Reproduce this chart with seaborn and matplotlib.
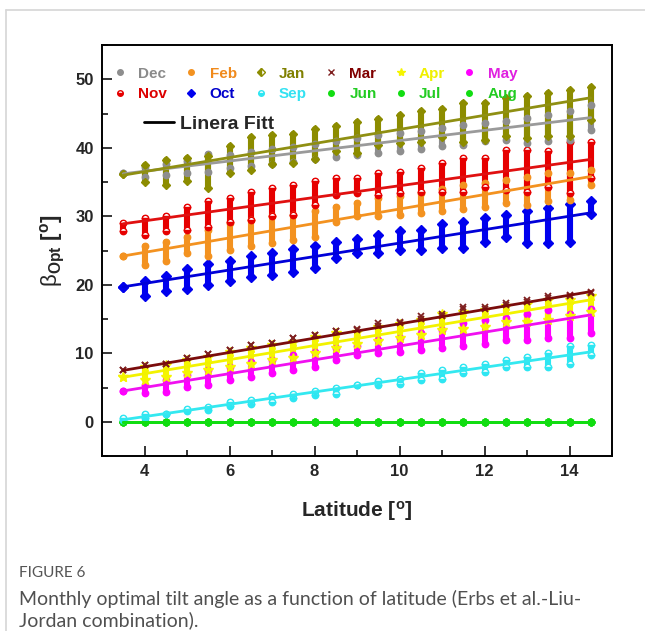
import matplotlib
matplotlib.use("Agg")
import matplotlib.pyplot as plt
from matplotlib.lines import Line2D
from matplotlib.ticker import MultipleLocator
import seaborn as sns

# ---------------- data ----------------
lat = [3.5, 4.0, 4.5, 5.0, 5.5, 6.0, 6.5, 7.0, 7.5, 8.0, 8.5, 9.0,
       9.5, 10.0, 10.5, 11.0, 11.5, 12.0, 12.5, 13.0, 13.5, 14.0, 14.5]

jan_lo = [36.1, 35.0, 34.6, 35.1, 34.1, 36.3, 36.8, 37.6, 37.8, 38.3, 39.5, 39.2,
          40.4, 40.7, 40.9, 41.5, 40.9, 41.2, 41.7, 41.4, 41.7, 41.7, 44.0]
jan_hi = [36.1, 37.5, 38.2, 38.5, 38.8, 40.2, 41.5, 41.8, 42.0, 42.7, 43.2, 43.7,
          44.2, 44.8, 45.3, 45.6, 46.5, 46.5, 47.3, 47.5, 48.0, 48.5, 48.8]
dec_lo = [36.3, 35.8, 36.0, 36.3, 36.5, 37.0, 37.3, 37.7, 37.9, 38.3, 38.6, 39.0,
          39.3, 39.5, 39.8, 40.2, 40.4, 41.0, 41.2, 40.7, 41.0, 41.2, 42.6]
dec_hi = [36.3, 37.2, 37.7, 38.1, 39.1, 39.0, 39.4, 39.8, 40.1, 40.6, 41.0, 41.4,
          41.8, 42.1, 42.5, 42.9, 43.3, 43.6, 43.9, 44.3, 44.8, 45.4, 46.2]
nov_lo = [27.8, 27.3, 27.8, 28.0, 28.5, 29.2, 29.5, 30.0, 30.2, 31.7, 33.1, 33.4,
          33.1, 33.4, 33.6, 33.6, 33.6, 34.3, 33.8, 33.6, 34.3, 33.4, 35.6]
nov_hi = [29.0, 29.7, 30.0, 31.4, 32.2, 32.6, 33.6, 34.1, 34.6, 35.1, 35.6, 35.6,
          36.3, 36.5, 37.0, 37.8, 38.5, 38.5, 39.7, 39.7, 39.5, 40.9, 40.9]
feb_lo = [24.2, 22.9, 23.4, 24.6, 24.2, 25.1, 25.6, 26.1, 26.5, 27.0, 29.2, 30.0,
          30.0, 30.2, 30.5, 30.7, 31.0, 31.4, 31.9, 31.7, 32.2, 32.4, 34.6]
feb_hi = [24.2, 25.6, 26.3, 27.0, 28.0, 29.0, 29.5, 30.0, 30.2, 30.7, 31.4, 31.9,
          32.6, 32.9, 33.4, 34.0, 34.5, 34.8, 35.3, 35.8, 36.3, 36.3, 36.8]
oct_lo = [19.7, 18.3, 19.1, 19.4, 20.0, 20.5, 21.2, 21.4, 21.9, 22.4, 23.9, 24.7,
          24.6, 25.1, 25.1, 25.3, 25.3, 26.3, 27.0, 26.1, 26.1, 26.2, 30.4]
oct_hi = [19.7, 20.5, 21.3, 22.3, 23.0, 23.4, 24.2, 24.6, 25.2, 25.7, 26.3, 26.7,
          27.3, 27.8, 28.0, 28.8, 29.2, 29.7, 30.2, 30.7, 31.2, 31.8, 32.2]
mar_lo = [7.6, 8.3, 8.5, 9.3, 9.9, 10.5, 11.2, 11.5, 12.2, 12.7, 13.2, 13.4,
          14.0, 14.4, 15.0, 15.4, 16.4, 16.5, 17.0, 17.5, 18.0, 18.3, 18.8]
mar_hi = [7.6, 8.3, 8.5, 9.3, 9.9, 10.5, 11.2, 11.5, 12.2, 12.7, 13.2, 13.6,
          14.4, 14.6, 15.4, 15.8, 16.8, 16.8, 17.3, 17.8, 18.3, 18.5, 19.0]
apr_lo = [6.6, 6.1, 6.6, 7.1, 7.6, 8.0, 8.5, 9.0, 9.3, 10.0, 10.7, 11.4,
          11.8, 12.2, 12.6, 13.4, 13.6, 13.8, 14.5, 14.6, 14.9, 15.4, 16.0]
apr_hi = [6.6, 8.0, 8.3, 9.0, 9.5, 10.2, 10.7, 11.2, 11.7, 12.4, 12.9, 13.1,
          13.9, 14.3, 14.8, 15.8, 16.0, 16.3, 16.9, 17.2, 17.8, 17.8, 18.3]
may_lo = [4.5, 4.2, 4.4, 5.1, 5.4, 6.1, 6.6, 7.1, 7.6, 8.0, 9.0, 9.7,
          10.0, 10.2, 10.5, 10.7, 11.0, 11.4, 11.9, 11.9, 12.2, 12.2, 13.0]
may_hi = [4.5, 5.4, 6.1, 6.8, 7.6, 8.0, 8.7, 9.0, 9.8, 10.2, 10.7, 11.0,
          12.0, 12.2, 12.9, 13.4, 14.4, 14.9, 15.1, 15.8, 16.3, 15.8, 16.5]
sep_lo = [0.25, 0.6, 1.2, 1.5, 1.7, 2.3, 2.6, 2.9, 3.4, 3.9, 4.1, 5.4,
          5.4, 5.5, 6.1, 6.3, 7.1, 7.3, 8.0, 8.0, 8.0, 8.5, 9.7]
sep_hi = [0.5, 1.2, 1.2, 1.9, 2.2, 2.9, 3.2, 3.7, 4.1, 4.5, 4.9, 5.4,
          5.9, 6.3, 7.1, 7.6, 8.0, 8.5, 9.0, 9.5, 10.0, 11.0, 11.2]
summer = [0.0, 0.0, 0.0, 0.0, 0.0, 0.0, 0.0, 0.0, 0.0, 0.0, 0.0, 0.0,
          0.0, 0.0, 0.0, 0.0, 0.0, 0.0, 0.0, 0.0, 0.0, 0.0, 0.0]  # Jun, Jul, Aug

# linear fits: value at first and last latitude
fit_months = ["Jun", "Jul", "Aug", "Sep", "May", "Apr", "Mar", "Oct", "Feb", "Nov", "Dec", "Jan"]
fit_first = [0.0, 0.0, 0.0, 0.3, 4.5, 6.5, 7.5, 19.7, 24.2, 28.9, 36.2, 36.0]
fit_last = [0.0, 0.0, 0.0, 10.2, 15.6, 17.8, 19.0, 30.5, 35.8, 38.3, 44.4, 47.3]

legend_labels = ["Dec", "Nov", "Feb", "Oct", "Jan", "Sep", "Mar", "Jun", "Apr", "Jul", "May", "Aug"]

# ---------------- styles ----------------
style = {
    "Dec": dict(c="#8e8e8e", line="#9a9a9a", txt="#8a8a8a", m="o", fill="full"),
    "Nov": dict(c="#e60000", line="#e01010", txt="#dd0000", m="o", fill="bottom"),
    "Feb": dict(c="#f39220", line="#f39220", txt="#f08a1c", m="o", fill="full"),
    "Oct": dict(c="#0000ee", line="#0000d8", txt="#0000cc", m="D", fill="full"),
    "Jan": dict(c="#8c8c00", line="#8f8f12", txt="#808000", m="D", fill="left"),
    "Sep": dict(c="#2ee6f2", line="#33e8f0", txt="#33e2f2", m="o", fill="bottom"),
    "Mar": dict(c="#7f2020", line="#7a0c0c", txt="#800000", m="x", fill="full"),
    "Jun": dict(c="#11dd11", line="#11dd11", txt="#22cc22", m="o", fill="full"),
    "Apr": dict(c="#f5f500", line="#f2f200", txt="#f0f000", m="*", fill="full"),
    "Jul": dict(c="#11dd11", line="#11dd11", txt="#22cc22", m="o", fill="full"),
    "May": dict(c="#ff00ff", line="#f010f0", txt="#e020e0", m="o", fill="full"),
    "Aug": dict(c="#11dd11", line="#11dd11", txt="#22cc22", m="o", fill="full"),
}

series = [("Jun", summer, summer), ("Jul", summer, summer), ("Aug", summer, summer),
          ("Sep", sep_lo, sep_hi), ("May", may_lo, may_hi), ("Apr", apr_lo, apr_hi),
          ("Oct", oct_lo, oct_hi), ("Feb", feb_lo, feb_hi), ("Nov", nov_lo, nov_hi),
          ("Dec", dec_lo, dec_hi), ("Jan", jan_lo, jan_hi), ("Mar", mar_lo, mar_hi)]

# ---------------- figure ----------------
sns.set_theme(style="ticks")
plt.rcParams["font.family"] = ["Liberation Sans", "DejaVu Sans"]
plt.rcParams["mathtext.fontset"] = "custom"
plt.rcParams["mathtext.rm"] = "Liberation Sans"
plt.rcParams["mathtext.it"] = "Liberation Sans:italic"
plt.rcParams["mathtext.bf"] = "Liberation Sans:bold"

fig = plt.figure(figsize=(6.45, 6.31), dpi=100)
ax = fig.add_axes([102 / 645, 1 - 456 / 631, 510 / 645, 411 / 631])

for name, lo, hi in series:
    s = style[name]
    if name != "Mar":
        vl = ax.vlines(lat, lo, hi, colors=s["c"], lw=4.4, zorder=2)
        vl.set_capstyle("round")
    fill = "full" if name == "Jan" else s["fill"]
    for vals in (lo, hi):
        ax.plot(lat, vals, ls="none", marker=s["m"],
                ms=(4.0 if name == "Jan" else 4.6) if s["m"] != "*" else 7,
                color=s["c"], fillstyle=fill, markerfacecoloralt="white",
                mew=1.0 if s["m"] != "x" else 1.3, zorder=3)

for name, a, b in zip(fit_months, fit_first, fit_last):
    sns.lineplot(x=[lat[0], lat[-1]], y=[a, b], color=style[name]["line"], lw=2.0,
                 ax=ax, zorder=4)

ax.set_xlim(3, 15)
ax.set_ylim(-5, 55)
ax.xaxis.set_major_locator(MultipleLocator(2))
ax.xaxis.set_minor_locator(MultipleLocator(1))
ax.yaxis.set_major_locator(MultipleLocator(10))
ax.yaxis.set_minor_locator(MultipleLocator(5))
ax.tick_params(which="both", direction="in", width=1.3, top=False, right=False)
ax.tick_params(which="major", length=7, labelsize=12, pad=6)
ax.tick_params(which="minor", length=4)
for lab in ax.get_xticklabels() + ax.get_yticklabels():
    lab.set_fontweight("bold")
for sp in ax.spines.values():
    sp.set_linewidth(1.4)
    sp.set_color("black")
    sp.set_visible(True)

ax.set_xlabel(r"Latitude [$^{\mathbf{o}}$]", fontsize=15, fontweight="bold", labelpad=14)
ax.set_ylabel(r"$\mathrm{\beta}_{\mathbf{Opt}}$ $\mathbf{[^{o}]}$", fontsize=16, labelpad=6)

# month legend
handles = []
for name in legend_labels:
    s = style[name]
    handles.append(Line2D([], [], ls="none", marker=s["m"], color=s["c"],
                          fillstyle=s["fill"], markerfacecoloralt="white",
                          ms=4 if s["m"] != "*" else 6, mew=1.0))
leg = ax.legend(handles, legend_labels, ncol=6, loc="upper left",
                bbox_to_anchor=(0.022, 0.947), frameon=False,
                prop=dict(weight="bold", size=11), handlelength=0.9,
                handletextpad=0.75, columnspacing=1.12, labelspacing=0.41,
                borderpad=0, borderaxespad=0)
for t, name in zip(leg.get_texts(), legend_labels):
    t.set_color(style[name]["txt"])
ax.add_artist(leg)

leg2 = ax.legend([Line2D([], [], color="black", lw=2)], ["Linera Fitt"], loc="upper left",
                 bbox_to_anchor=(0.082, 0.829), frameon=False,
                 prop=dict(weight="bold", size=14), handlelength=1.55,
                 handletextpad=0.3, borderpad=0, borderaxespad=0)

# page frame and caption
fig.add_artist(Line2D([6 / 645, 1], [1 - 10 / 631, 1 - 10 / 631], color="#d6d6d6", lw=1.2))
fig.add_artist(Line2D([6 / 645, 6 / 645], [0, 1 - 10 / 631], color="#d6d6d6", lw=1.2))
fig.text(19 / 645, 1 - 573 / 631, "FIGURE 6", fontsize=11, color="#555555",
         family=["Lato", "DejaVu Sans"], va="center", ha="left")
fig.text(19 / 645, 1 - 599 / 631,
         "Monthly optimal tilt angle as a function of latitude (Erbs et al.-Liu-",
         fontsize=14, color="#505050", family=["Lato", "DejaVu Sans"], va="center", ha="left")
fig.text(19 / 645, 1 - 620 / 631, "Jordan combination).",
         fontsize=14, color="#505050", family=["Lato", "DejaVu Sans"], va="center", ha="left")

fig.savefig("out.png", dpi=100)
